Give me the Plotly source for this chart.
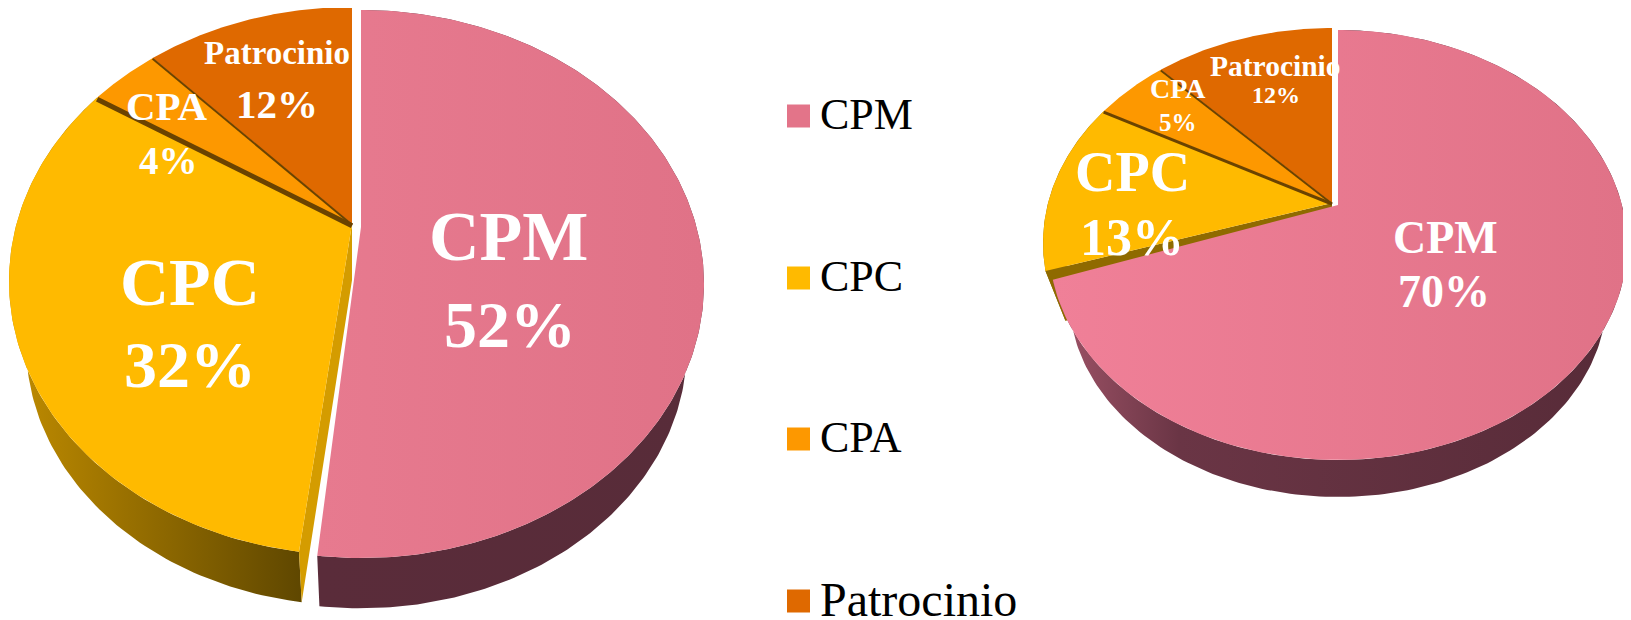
import numpy as np
import plotly.graph_objects as go

categories = ["CPM", "CPC", "CPA", "Patrocinio"]
values_left = [52, 32, 4, 12]
values_right = [70, 13, 5, 12]

face_colors = ["#e37489", "#ffba00", "#fd9800", "#df6900"]
SERIF = "Liberation Serif"


def make_pie(cx, cy, up, down, half_w, ecy, s, d):
    k = (down - up) / (down + up)
    A = up * (1 + k)
    B = half_w * np.sqrt(1 - k * k)

    def top(th):
        u, v = np.sin(th), np.cos(th)
        w = 1 + k * v
        return cx + B * u / w, cy - A * v / w

    def low(th):
        x, y = top(th)
        return cx + s * (x - cx), ecy + s * (y - ecy) + d

    return top, low


fig = go.Figure()


def poly(xs, ys, color=None, grad=None, name=""):
    kw = dict(fillgradient=grad) if grad else dict(fillcolor=color)
    fig.add_trace(go.Scatter(x=list(xs), y=list(ys), mode="lines", fill="toself",
                             line=dict(width=0, color="rgba(0,0,0,0)"),
                             hoverinfo="skip", showlegend=False, name=name, **kw))


def hgrad(stops):
    return dict(type="horizontal", colorscale=stops)


def draw(values, p, cpm_grad, cpm_wall, cpc_wall, strip, edge_w):
    top, low = make_pie(p["cx"], p["cy"], p["up"], p["down"], p["hw"], p["ecy"], p["s"], p["d"])
    cum = np.cumsum([0] + values) / sum(values) * 2 * np.pi
    ax, ay = p["cx"], p["cy"]
    dx, dy = p["ex"]

    # CPC wall and cut side
    th = np.linspace(cum[1], cum[2], 120)
    tx, ty = top(th)
    lx, ly = low(th)
    poly(np.r_[tx, lx[::-1]], np.r_[ty, ly[::-1]], grad=hgrad(cpc_wall), name="CPC wall")
    ex, ey = top(np.array([cum[1]]))
    fx, fy = low(np.array([cum[1]]))
    poly([ax, ex[0], fx[0], ax], [ay, ey[0], fy[0], ay + p["cut"]], color=strip, name="CPC cut")

    # CPC, CPA, Patrocinio faces
    for i in [1, 2, 3]:
        th = np.linspace(cum[i], cum[i + 1], 120)
        x, y = top(th)
        poly(np.r_[ax, x, ax], np.r_[ay, y, ay], color=face_colors[i], name=categories[i])

    # dark seams between slices
    for i, w in zip([2, 3], edge_w):
        x, y = top(np.array([cum[i]]))
        fig.add_trace(go.Scatter(x=[ax, x[0]], y=[ay + w / 3, y[0] + w / 3], mode="lines",
                                 line=dict(color="#6b4300", width=w),
                                 hoverinfo="skip", showlegend=False))

    # CPM wall and face, pulled out of the pie
    th = np.linspace(cum[0], cum[1] - p["gap"], 240)
    tx, ty = top(th)
    lx, ly = low(th)
    poly(np.r_[tx, lx[::-1]] + dx, np.r_[ty, ly[::-1]] + dy, grad=hgrad(cpm_wall), name="CPM wall")
    poly(np.r_[ax, tx, ax] + dx, np.r_[ay, ty, ay] + dy, grad=hgrad(cpm_grad), name="CPM")


left = dict(cx=352, cy=224, up=217, down=331, hw=343, ecy=281, s=0.95, d=64,
            ex=(9, 3), cut=56, gap=0.022)
right = dict(cx=1332, cy=203, up=175, down=255, hw=289, ecy=243, s=0.93, d=52,
             ex=(6, 2), cut=8, gap=0.03)

draw(values_left, left, [[0, "#e77a8f"], [1, "#e07287"]], [[0, "#5a2c3a"], [1, "#582c39"]],
     [[0, "#c08c00"], [1, "#5f4700"]], "#d49c00", (5, 2))
draw(values_right, right, [[0, "#f08098"], [1, "#e07287"]],
     [[0, "#a05468"], [0.22, "#6a3545"], [1, "#572b38"]],
     [[0, "#8f6a00"], [1, "#8f6a00"]], "#8f6a00", (3, 2))


def label(text, x, y, size, color="white", bold=True, anchor="center"):
    body = f"<b>{text}</b>" if bold else text
    fig.add_annotation(x=x, y=y, xref="x", yref="y", text=body, showarrow=False,
                       xanchor=anchor, yanchor="middle",
                       font=dict(family=SERIF, size=size, color=color))


def pct(values, i):
    return f"{values[i]}%"


# left pie labels
label(categories[0], 508, 236, 70)
label(pct(values_left, 0), 510, 324, 66)
label(categories[1], 190, 282, 68)
label(pct(values_left, 1), 190, 364, 66)
label(categories[2], 167, 106, 41)
label(pct(values_left, 2), 168, 160, 39)
label(categories[3], 277, 53, 33)
label(pct(values_left, 3), 277, 104, 41)

# right pie labels
label(categories[0], 1445, 237, 46)
label(pct(values_right, 0), 1444, 291, 46)
label(categories[1], 1132, 172, 56)
label(pct(values_right, 1), 1132, 237, 52)
label(categories[2], 1178, 88, 28)
label(pct(values_right, 2), 1178, 122, 25)
label(categories[3], 1275, 66, 29.5)
label(pct(values_right, 3), 1276, 95, 24)

# legend
legend_y = [116, 278, 439, 601]
legend_size = [44, 44, 44, 48]
for name, color, y, sz in zip(categories, face_colors, legend_y, legend_size):
    fig.add_trace(go.Scatter(x=[798.5], y=[y], mode="markers",
                             marker=dict(symbol="square", size=23, color=color, line=dict(width=0)),
                             hoverinfo="skip", showlegend=False, name=name))
    label(name, 818, y - 2, sz, color="black", bold=False, anchor="left")

# the page keeps an 8 px body margin, so the plot starts 8 px in
fig.update_layout(
    width=1623, height=612, autosize=False,
    margin=dict(l=0, r=0, t=0, b=0),
    paper_bgcolor="white", plot_bgcolor="white",
    xaxis=dict(range=[8, 1631], visible=False, fixedrange=True),
    yaxis=dict(range=[620, 8], visible=False, fixedrange=True),
)
fig.write_html("out.html", config=dict(displayModeBar=False))
